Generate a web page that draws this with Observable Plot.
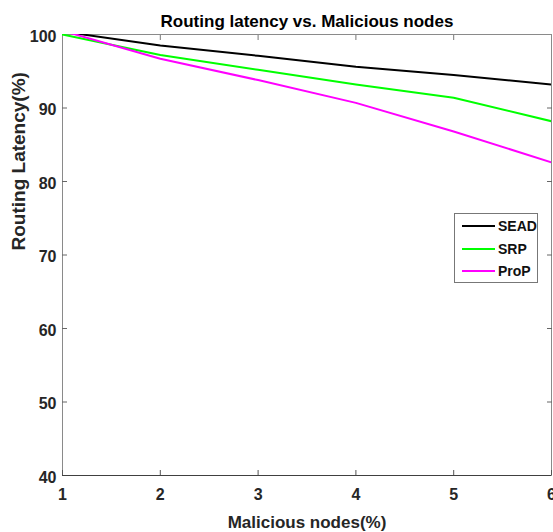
<!DOCTYPE html>
<html>
<head>
<meta charset="utf-8">
<script src="https://cdn.jsdelivr.net/npm/d3@7"></script>
<script src="https://cdn.jsdelivr.net/npm/@observablehq/plot@0.6"></script>
<style>
  html, body { margin: 0; padding: 0; background: #fff; }
  #wrap { position: relative; width: 553px; height: 532px; }
  #legend {
    position: absolute; left: 454px; top: 213px; width: 84px; height: 70px;
    border: 1px solid #777; background: #fff; box-sizing: border-box;
    font: bold 14px "Liberation Sans", Arial, sans-serif; color: #111;
  }
  .item { position: absolute; left: 7px; height: 16px; display: flex; align-items: center; }
  .swatch { width: 33px; height: 2px; margin-right: 3px; }
</style>
</head>
<body>
<div id="wrap"><div id="legend"></div></div>
<script>
const xValues = [1, 2, 3, 4, 5, 6];
const seriesNames = ["SEAD", "SRP", "ProP"];
const seriesColors = ["#000000", "#00ff00", "#ff00ff"];
const seadValues = [100.4, 98.5, 97.1, 95.6, 94.5, 93.2];
const srpValues = [100, 97.2, 95.2, 93.2, 91.4, 88.2];
const propValues = [100.5, 96.7, 93.8, 90.7, 86.8, 82.6];
const xTicks = [1, 2, 3, 4, 5, 6];
const yTicks = [40, 50, 60, 70, 80, 90, 100];
const titleText = "Routing latency vs. Malicious nodes";
const xLabelText = "Malicious nodes(%)";
const yLabelText = "Routing Latency(%)";

const seriesValues = [seadValues, srpValues, propValues];
const rows = seriesNames.flatMap((name, i) =>
  xValues.map((x, j) => ({series: name, x, y: seriesValues[i][j]}))
);

const font = '"Liberation Sans", Arial, sans-serif';

const chart = Plot.plot({
  width: 553,
  height: 532,
  marginLeft: 62,
  marginRight: 2,
  marginTop: 34,
  marginBottom: 57,
  style: {fontFamily: font, fontWeight: "bold", fontSize: "16px", color: "#262626", background: "#fff", overflow: "visible"},
  x: {domain: [1, 6], label: null},
  y: {domain: [40, 100], label: null},
  color: {domain: seriesNames, range: seriesColors},
  marks: [
    Plot.frame({stroke: "#8a8a8a"}),
    Plot.ruleY([40], {stroke: "#404040"}),
    Plot.axisX(xTicks, {anchor: "bottom", tickSize: 0, tickPadding: 13, fontSize: 16, label: null}),
    Plot.axisX(xTicks, {anchor: "bottom", tickSize: -5, fill: "none", stroke: "#555", label: null}),
    Plot.axisX(xTicks.slice(1, -1), {anchor: "top", tickSize: -5, fill: "none", stroke: "#777", label: null}),
    Plot.axisY(yTicks, {anchor: "left", tickSize: 0, tickPadding: 6, dy: 2, fontSize: 16, label: null}),
    Plot.axisY(yTicks.slice(1, -1), {anchor: "left", tickSize: -5, fill: "none", stroke: "#666", label: null}),
    Plot.axisY(yTicks.slice(1, -1), {anchor: "right", tickSize: -5, fill: "none", stroke: "#666", label: null}),
    Plot.line(rows, {x: "x", y: "y", z: "series", stroke: "series", strokeWidth: 2, clip: true}),
    Plot.text([titleText], {frameAnchor: "top", lineAnchor: "bottom", dy: -8, fontSize: 17, fontWeight: "bold", fill: "#000"}),
    Plot.text([xLabelText], {frameAnchor: "bottom", lineAnchor: "bottom", dy: 52, fontSize: 17, fontWeight: "bold", fill: "#262626"}),
    Plot.text([yLabelText], {frameAnchor: "left", rotate: -90, dx: -43.5, dy: -4.5, fontSize: 19, fontWeight: "bold", fill: "#262626"})
  ]
});

document.getElementById("wrap").prepend(chart);

const legend = document.getElementById("legend");
seriesNames.forEach((name, i) => {
  const item = document.createElement("div");
  item.className = "item";
  item.style.top = (4 + i * 22.5) + "px";
  const sw = document.createElement("div");
  sw.className = "swatch";
  sw.style.background = seriesColors[i];
  const label = document.createElement("span");
  label.textContent = name;
  item.append(sw, label);
  legend.append(item);
});
</script>
</body>
</html>
